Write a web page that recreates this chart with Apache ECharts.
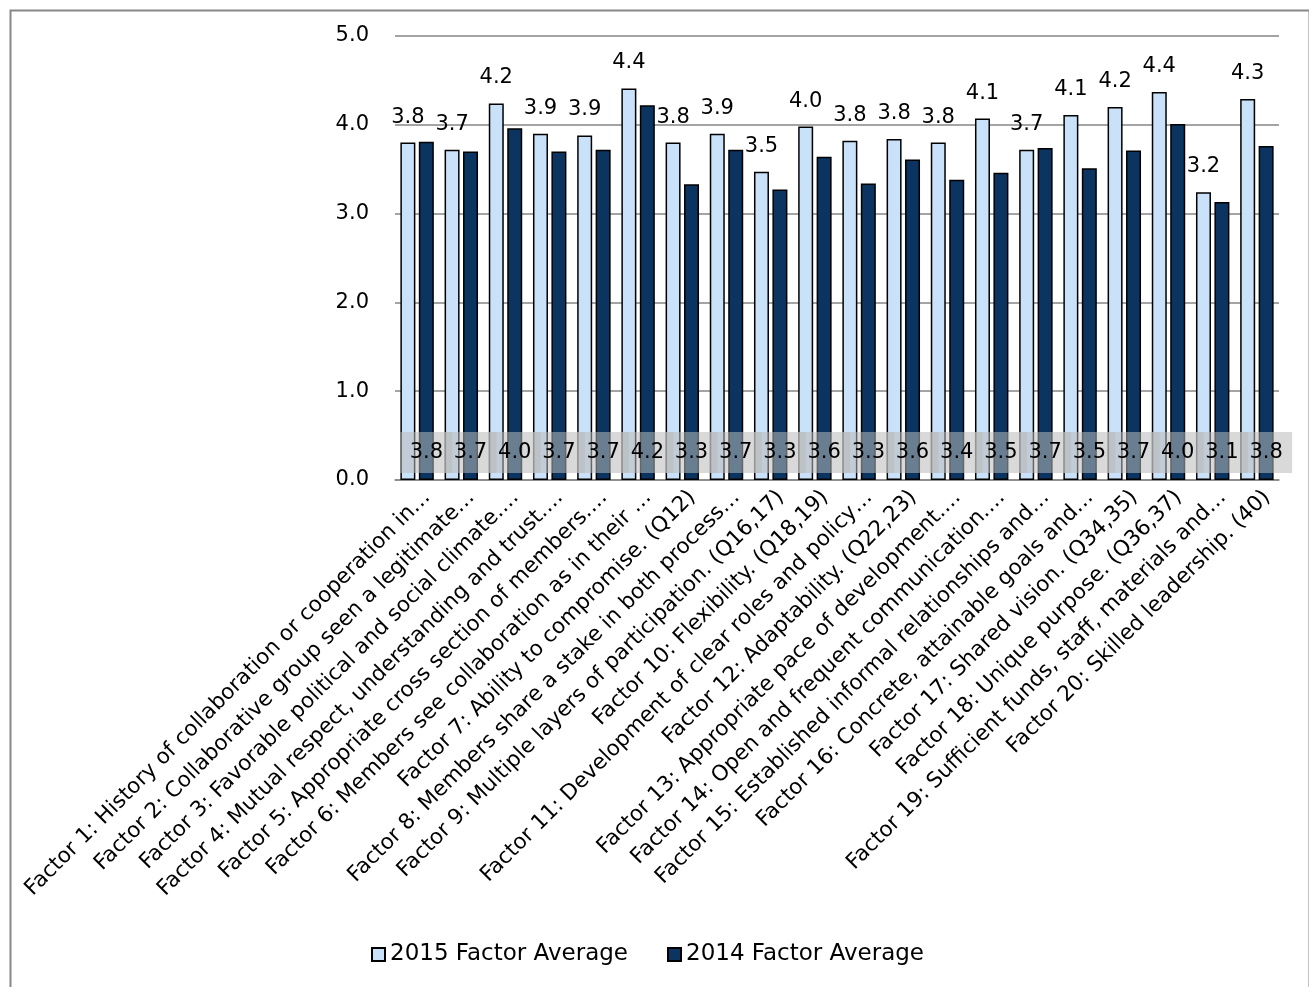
<!DOCTYPE html>
<html>
<head>
<meta charset="utf-8">
<script src="https://cdn.jsdelivr.net/npm/echarts@6/dist/echarts.min.js"></script>
<style>html,body{margin:0;padding:0;background:#fff}#c{width:1309px;height:987px}</style>
</head>
<body>
<div id="c"></div>
<script>
const categories = [
  "Factor 1: History of collaboration or cooperation in\u2026",
  "Factor 2: Collaborative group seen a legitimate\u2026",
  "Factor 3: Favorable political and social climate.\u2026",
  "Factor 4: Mutual respect, understanding and trust.\u2026",
  "Factor 5: Appropriate cross section of members.\u2026",
  "Factor 6: Members see collaboration as in their \u2026",
  "Factor 7: Ability to compromise. (Q12)",
  "Factor 8: Members share a stake in both process\u2026",
  "Factor 9: Multiple layers of participation. (Q16,17)",
  "Factor 10: Flexibility. (Q18,19)",
  "Factor 11: Development of clear roles and policy\u2026",
  "Factor 12: Adaptability. (Q22,23)",
  "Factor 13: Appropriate pace of development.\u2026",
  "Factor 14: Open and frequent communication.\u2026",
  "Factor 15: Established informal relationships and\u2026",
  "Factor 16: Concrete, attainable goals and\u2026",
  "Factor 17: Shared vision. (Q34,35)",
  "Factor 18: Unique purpose. (Q36,37)",
  "Factor 19: Sufficient funds, staff, materials and\u2026",
  "Factor 20: Skilled leadership. (40)"
];
const avg2015 = [3.80, 3.72, 4.24, 3.90, 3.88, 4.41, 3.80, 3.90, 3.47, 3.98, 3.82, 3.84, 3.80, 4.07, 3.72, 4.11, 4.20, 4.37, 3.24, 4.29];
const avg2014 = [3.81, 3.70, 3.96, 3.70, 3.72, 4.22, 3.33, 3.72, 3.27, 3.64, 3.34, 3.61, 3.38, 3.46, 3.74, 3.51, 3.71, 4.01, 3.13, 3.76];
const seriesNames = ["2015 Factor Average", "2014 Factor Average"];
const yTicks = [0, 1, 2, 3, 4, 5];

const FONT = "DejaVu Sans";
const chart = echarts.init(document.getElementById('c'));
chart.setOption({
  animation: false,
  backgroundColor: '#fff',
  textStyle: { fontFamily: FONT },
  graphic: [{
    type: 'rect', left: 8, top: 8, silent: true,
    shape: { width: 1299, height: 1000 },
    style: { fill: 'none', stroke: '#878787', lineWidth: 2 }
  }],
  legend: {
    left: 366, top: 938,
    itemWidth: 13, itemHeight: 13, itemGap: 39,
    textStyle: { fontFamily: FONT, fontSize: 23, color: '#000' },
    data: seriesNames.map(n => ({ name: n, icon: 'rect' }))
  },
  grid: [
    { left: 395, right: 30, top: 36, bottom: 507, containLabel: false },
    { left: 405, right: 20, top: 36, bottom: 507, containLabel: false }
  ],
  xAxis: [
    {
      type: 'category', gridIndex: 0,
      data: categories,
      axisLine: { lineStyle: { color: '#868686', width: 1.5 } },
      axisTick: { show: false },
      axisLabel: { show: false }
    },
    {
      type: 'category', gridIndex: 1,
      data: categories,
      axisLine: { show: false },
      axisTick: { show: false },
      axisLabel: { interval: 0, rotate: 45, fontFamily: FONT, fontSize: 21.5, color: '#000', margin: 14 }
    }
  ],
  yAxis: [
    {
      type: 'value', gridIndex: 0, min: yTicks[0], max: yTicks[yTicks.length - 1], interval: 1,
      axisLine: { show: false }, axisTick: { show: false },
      splitLine: { lineStyle: { color: '#868686', width: 1.5 } },
      axisLabel: { fontFamily: FONT, fontSize: 21, color: '#000', margin: 26, formatter: v => v.toFixed(1) }
    },
    {
      type: 'value', gridIndex: 1, min: yTicks[0], max: yTicks[yTicks.length - 1], interval: 1,
      show: false
    }
  ],
  series: [
    {
      name: seriesNames[0], type: 'bar', data: avg2015,
      xAxisIndex: 0, yAxisIndex: 0,
      barWidth: 15, barGap: '23%',
      itemStyle: { color: '#c9e2f9', borderColor: '#000', borderWidth: 1.5 },
      label: {
        show: true, position: 'top', distance: 15,
        fontFamily: FONT, fontSize: 21, color: '#000',
        formatter: p => p.value.toFixed(1)
      }
    },
    {
      name: seriesNames[1], type: 'bar', data: avg2014,
      xAxisIndex: 0, yAxisIndex: 0,
      barWidth: 15,
      itemStyle: { color: '#0b3560', borderColor: '#000', borderWidth: 1.5 },
      label: {
        show: true, position: 'insideBottom', distance: 7,
        fontFamily: FONT, fontSize: 21, color: '#000',
        width: 52, height: 41, lineHeight: 41, align: 'center', verticalAlign: 'bottom',
        backgroundColor: 'rgba(185,185,185,0.55)',
        formatter: p => p.value.toFixed(1)
      }
    }
  ]
});
</script>
</body>
</html>
